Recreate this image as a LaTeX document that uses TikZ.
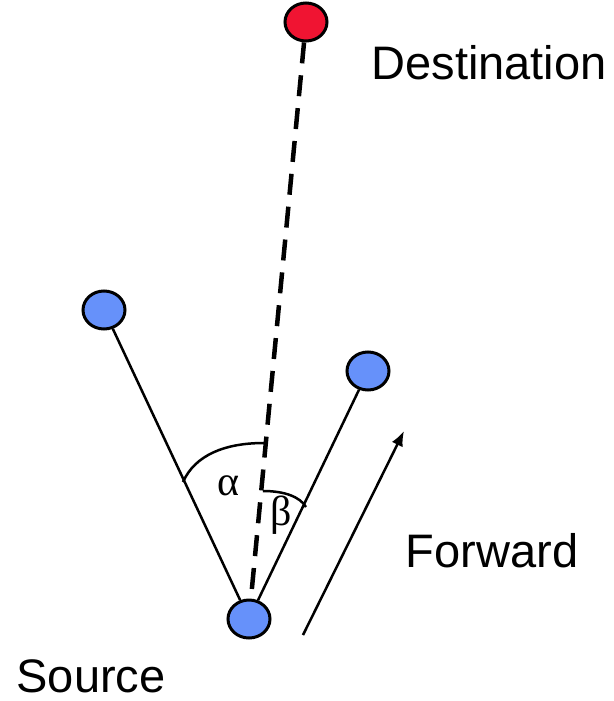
\documentclass[tikz,border=0pt]{standalone}
\usepackage{fontspec}
\setmainfont{Liberation Sans}
\newfontfamily\greekf{Liberation Serif}
\usetikzlibrary{shapes.geometric,arrows.meta}
\definecolor{nodeblue}{RGB}{102,145,250}
\definecolor{nodered}{RGB}{240,20,50}
\tikzset{
  station/.style={ellipse,draw=black,line width=3pt,minimum width=42pt,minimum height=38pt,inner sep=0pt},
  link/.style={line width=2.5pt},
  route/.style={line width=4.5pt,dash pattern=on 21pt off 12pt},
  label/.style={font=\fontsize{47}{50}\selectfont,anchor=base,inner sep=0pt},
  anglelab/.style={font=\greekf\fontsize{42}{44}\selectfont,inner sep=0pt},
  anglearc/.style={line width=2.5pt},
}
\begin{document}
\begin{tikzpicture}[x=1pt,y=-1pt]
\useasboundingbox (0,0) rectangle (613,701);
\node[station,fill=nodered] (dest) at (306,22) {};
\node[station,fill=nodeblue] (left) at (104,310) {};
\node[station,fill=nodeblue] (right) at (368,371) {};
\node[station,fill=nodeblue] (src) at (249,619) {};
\draw[link] (left) -- (src);
\draw[link] (src) -- (right);
\draw[route] (dest) -- (src);
\draw[anglearc] (183,482) .. controls (195,455) and (225,443) .. (264,443);
\draw[anglearc] (263,491) .. controls (285,491) and (300,497) .. (306,507);
\coordinate (fwdstart) at (303,635);
\coordinate (fwdend) at (404,431);
\draw[link,-{Latex[length=15pt,width=12pt]}] (fwdstart) -- (fwdend);
\node[label] (destlab) at (489,79) {Destination};
\node[label] (srclab) at (91,692) {Source};
\node[label] (fwdlab) at (492,567) {Forward};
\node[anglelab] (alpha) at (228,486) {α};
\node[anglelab] (beta) at (281,515) {β};
\end{tikzpicture}
\end{document}
